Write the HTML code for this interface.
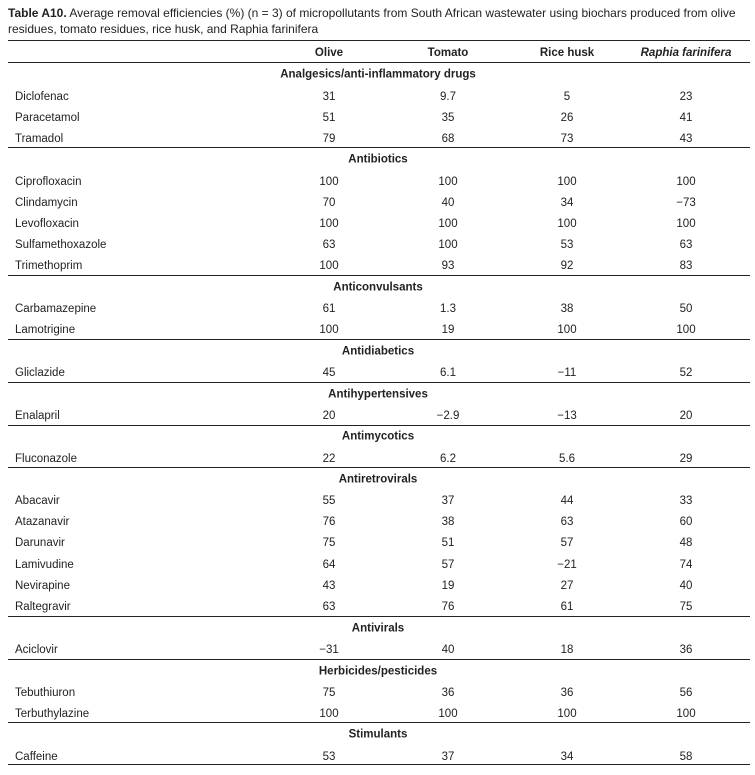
<!DOCTYPE html>
<html><head><meta charset="utf-8"><style>
body{margin:0;width:755px;height:775px;background:#fff;position:relative;overflow:hidden;font-family:"Liberation Sans Narrow","Liberation Sans",sans-serif;color:#222;font-size:11.5px}
.cap{position:absolute;left:8px;top:5px;width:745px;line-height:16px;font-size:12px}
.r{position:absolute;left:0;width:755px;height:16px;line-height:16px}
.r span{position:absolute;top:1.5px;white-space:nowrap}
.l{left:15px}
.c{transform:translateX(-50%)}
.a{left:329px}.b{left:448px}.d{left:567px}.e{left:686px}
.cat{position:absolute;left:378px;transform:translate(-50%,1.5px);font-weight:bold;white-space:nowrap;height:16px;line-height:16px}
.h{position:absolute;left:8px;width:742px;height:1.3px;background:#222}
</style></head><body>
<div class="cap"><b>Table A10.</b> Average removal efficiencies (%) (n = 3) of micropollutants from South African wastewater using biochars produced from olive residues, tomato residues, rice husk, and Raphia farinifera</div>
<div class="h" style="top:40px"></div>
<div class="r" style="top:43px;font-weight:bold"><span class="c a">Olive</span><span class="c b">Tomato</span><span class="c d">Rice husk</span><span class="c e" style="font-style:italic">Raphia farinifera</span></div>
<div class="h" style="top:62px"></div>

<div class="cat" style="top:65px">Analgesics/anti-inflammatory drugs</div>
<div class="r" style="top:87px"><span class="l">Diclofenac</span><span class="c a">31</span><span class="c b">9.7</span><span class="c d">5</span><span class="c e">23</span></div>
<div class="r" style="top:108px"><span class="l">Paracetamol</span><span class="c a">51</span><span class="c b">35</span><span class="c d">26</span><span class="c e">41</span></div>
<div class="r" style="top:129px"><span class="l">Tramadol</span><span class="c a">79</span><span class="c b">68</span><span class="c d">73</span><span class="c e">43</span></div>
<div class="h" style="top:147px"></div>

<div class="cat" style="top:150px">Antibiotics</div>
<div class="r" style="top:172px"><span class="l">Ciprofloxacin</span><span class="c a">100</span><span class="c b">100</span><span class="c d">100</span><span class="c e">100</span></div>
<div class="r" style="top:193px"><span class="l">Clindamycin</span><span class="c a">70</span><span class="c b">40</span><span class="c d">34</span><span class="c e">−73</span></div>
<div class="r" style="top:214px"><span class="l">Levofloxacin</span><span class="c a">100</span><span class="c b">100</span><span class="c d">100</span><span class="c e">100</span></div>
<div class="r" style="top:235px"><span class="l">Sulfamethoxazole</span><span class="c a">63</span><span class="c b">100</span><span class="c d">53</span><span class="c e">63</span></div>
<div class="r" style="top:256px"><span class="l">Trimethoprim</span><span class="c a">100</span><span class="c b">93</span><span class="c d">92</span><span class="c e">83</span></div>
<div class="h" style="top:275px"></div>

<div class="cat" style="top:278px">Anticonvulsants</div>
<div class="r" style="top:299px"><span class="l">Carbamazepine</span><span class="c a">61</span><span class="c b">1.3</span><span class="c d">38</span><span class="c e">50</span></div>
<div class="r" style="top:320px"><span class="l">Lamotrigine</span><span class="c a">100</span><span class="c b">19</span><span class="c d">100</span><span class="c e">100</span></div>
<div class="h" style="top:339px"></div>

<div class="cat" style="top:342px">Antidiabetics</div>
<div class="r" style="top:363px"><span class="l">Gliclazide</span><span class="c a">45</span><span class="c b">6.1</span><span class="c d">−11</span><span class="c e">52</span></div>
<div class="h" style="top:382px"></div>

<div class="cat" style="top:385px">Antihypertensives</div>
<div class="r" style="top:406px"><span class="l">Enalapril</span><span class="c a">20</span><span class="c b">−2.9</span><span class="c d">−13</span><span class="c e">20</span></div>
<div class="h" style="top:425px"></div>

<div class="cat" style="top:427px">Antimycotics</div>
<div class="r" style="top:449px"><span class="l">Fluconazole</span><span class="c a">22</span><span class="c b">6.2</span><span class="c d">5.6</span><span class="c e">29</span></div>
<div class="h" style="top:467px"></div>

<div class="cat" style="top:470px">Antiretrovirals</div>
<div class="r" style="top:491px"><span class="l">Abacavir</span><span class="c a">55</span><span class="c b">37</span><span class="c d">44</span><span class="c e">33</span></div>
<div class="r" style="top:512px"><span class="l">Atazanavir</span><span class="c a">76</span><span class="c b">38</span><span class="c d">63</span><span class="c e">60</span></div>
<div class="r" style="top:533px"><span class="l">Darunavir</span><span class="c a">75</span><span class="c b">51</span><span class="c d">57</span><span class="c e">48</span></div>
<div class="r" style="top:555px"><span class="l">Lamivudine</span><span class="c a">64</span><span class="c b">57</span><span class="c d">−21</span><span class="c e">74</span></div>
<div class="r" style="top:576px"><span class="l">Nevirapine</span><span class="c a">43</span><span class="c b">19</span><span class="c d">27</span><span class="c e">40</span></div>
<div class="r" style="top:597px"><span class="l">Raltegravir</span><span class="c a">63</span><span class="c b">76</span><span class="c d">61</span><span class="c e">75</span></div>
<div class="h" style="top:616px"></div>

<div class="cat" style="top:619px">Antivirals</div>
<div class="r" style="top:640px"><span class="l">Aciclovir</span><span class="c a">−31</span><span class="c b">40</span><span class="c d">18</span><span class="c e">36</span></div>
<div class="h" style="top:659px"></div>

<div class="cat" style="top:662px">Herbicides/pesticides</div>
<div class="r" style="top:683px"><span class="l">Tebuthiuron</span><span class="c a">75</span><span class="c b">36</span><span class="c d">36</span><span class="c e">56</span></div>
<div class="r" style="top:704px"><span class="l">Terbuthylazine</span><span class="c a">100</span><span class="c b">100</span><span class="c d">100</span><span class="c e">100</span></div>
<div class="h" style="top:722px"></div>

<div class="cat" style="top:725px">Stimulants</div>
<div class="r" style="top:747px"><span class="l">Caffeine</span><span class="c a">53</span><span class="c b">37</span><span class="c d">34</span><span class="c e">58</span></div>
<div class="h" style="top:764px"></div>
</body></html>
